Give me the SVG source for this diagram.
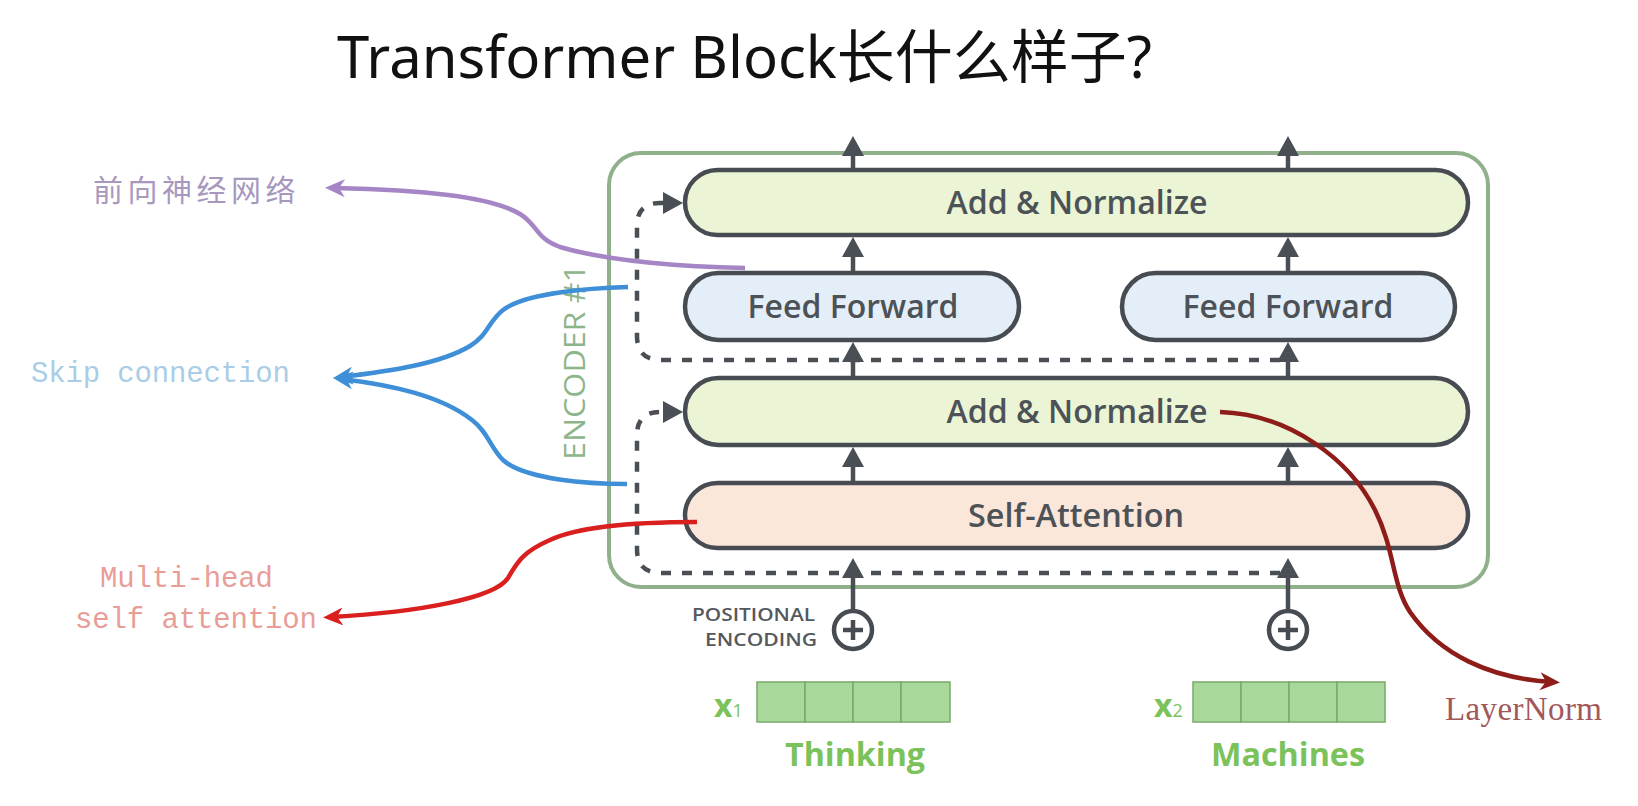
<svg xmlns="http://www.w3.org/2000/svg" width="1638" height="806" viewBox="0 0 1638 806">
<style>
.node{stroke:#474c52;stroke-width:4.5}
.an{fill:#ebf5d5}
.ff{fill:#e4eef9}
.sa{fill:#fbe6da}
.lbl{font-family:"Open Sans","Liberation Sans",sans-serif;font-weight:600;font-size:33px;fill:#4d5257;text-anchor:middle}
.flow{stroke:#4a4f56;stroke-width:4.5;fill:none}
.dash{stroke:#4a4f56;stroke-width:4.5;fill:none;stroke-dasharray:10 11}
.vec{fill:#a9d99a;stroke:#7aa86c;stroke-width:1.5}
.grn{font-family:"Open Sans","Liberation Sans",sans-serif;font-weight:700;fill:#7cc25a}
.mono{font-family:"Liberation Mono","DejaVu Sans Mono",monospace;font-size:29px}
.curve{fill:none;stroke-width:4.5}
</style>
<defs>
<marker id="ah" viewBox="0 0 20 22" refX="10" refY="11" markerWidth="20" markerHeight="22" markerUnits="userSpaceOnUse" orient="auto"><path d="M0,0 L20,11 L0,22 z" fill="#4a4f56"/></marker>
<marker id="ap" viewBox="0 0 20 18" refX="11" refY="9" markerWidth="20" markerHeight="18" markerUnits="userSpaceOnUse" orient="auto"><path d="M0,0 L20,9 L0,18 L6,9 z" fill="#a585c5"/></marker>
<marker id="ab" viewBox="0 0 20 18" refX="11" refY="9" markerWidth="20" markerHeight="18" markerUnits="userSpaceOnUse" orient="auto"><path d="M0,0 L20,9 L0,18 L6,9 z" fill="#3f8fd8"/></marker>
<marker id="ar" viewBox="0 0 20 18" refX="11" refY="9" markerWidth="20" markerHeight="18" markerUnits="userSpaceOnUse" orient="auto"><path d="M0,0 L20,9 L0,18 L6,9 z" fill="#d9201f"/></marker>
<marker id="ad" viewBox="0 0 20 18" refX="11" refY="9" markerWidth="20" markerHeight="18" markerUnits="userSpaceOnUse" orient="auto"><path d="M0,0 L20,9 L0,18 L6,9 z" fill="#8e1d1a"/></marker>
</defs>
<rect width="1638" height="806" fill="#ffffff"/>

<text id="title" x="337" y="78" font-family="'Noto Sans','Noto Sans CJK SC',sans-serif" font-size="58" fill="#111111">Transformer Block长什么样子?</text>

<g id="encoder">
<rect x="609" y="153" width="879" height="434" rx="32" fill="none" stroke="#8fb08b" stroke-width="4"/>
<text transform="translate(585,362) rotate(-90)" font-family="'Open Sans','Liberation Sans',sans-serif" font-size="30" fill="#8db58a" text-anchor="middle" textLength="196" lengthAdjust="spacingAndGlyphs">ENCODER #1</text>
</g>

<g id="connectors">
<path class="dash" d="M1280,360 H661 Q637,360 637,336 V226 Q637,203 660,203 H673" marker-end="url(#ah)"/>
<path class="dash" d="M1280,573 H661 Q637,573 637,549 V435 Q637,412 660,412 H673" marker-end="url(#ah)"/>
<line class="flow" x1="853" y1="170" x2="853" y2="146" marker-end="url(#ah)"/>
<line class="flow" x1="1288" y1="170" x2="1288" y2="146" marker-end="url(#ah)"/>
<line class="flow" x1="853" y1="273" x2="853" y2="247" marker-end="url(#ah)"/>
<line class="flow" x1="1288" y1="273" x2="1288" y2="247" marker-end="url(#ah)"/>
<line class="flow" x1="853" y1="378" x2="853" y2="352" marker-end="url(#ah)"/>
<line class="flow" x1="1288" y1="378" x2="1288" y2="352" marker-end="url(#ah)"/>
<line class="flow" x1="853" y1="483" x2="853" y2="457" marker-end="url(#ah)"/>
<line class="flow" x1="1288" y1="483" x2="1288" y2="457" marker-end="url(#ah)"/>
<line class="flow" x1="853" y1="610" x2="853" y2="568" marker-end="url(#ah)"/>
<line class="flow" x1="1288" y1="610" x2="1288" y2="568" marker-end="url(#ah)"/>
</g>

<g id="add-normalize-2">
<rect class="node an" x="685" y="170" width="783" height="65" rx="32.5"/>
<text class="lbl" x="1077" y="214" textLength="261" lengthAdjust="spacingAndGlyphs">Add &amp; Normalize</text>
</g>
<g id="feed-forward-1">
<rect class="node ff" x="685" y="273" width="334" height="67" rx="33.5"/>
<text class="lbl" x="853" y="318" textLength="211" lengthAdjust="spacingAndGlyphs">Feed Forward</text>
</g>
<g id="feed-forward-2">
<rect class="node ff" x="1122" y="273" width="333" height="67" rx="33.5"/>
<text class="lbl" x="1288" y="318" textLength="211" lengthAdjust="spacingAndGlyphs">Feed Forward</text>
</g>
<g id="add-normalize-1">
<rect class="node an" x="685" y="378" width="783" height="67" rx="33.5"/>
<text class="lbl" x="1077" y="423" textLength="261" lengthAdjust="spacingAndGlyphs">Add &amp; Normalize</text>
</g>
<g id="self-attention">
<rect class="node sa" x="685" y="483" width="783" height="65" rx="32.5"/>
<text class="lbl" x="1076" y="527" textLength="216" lengthAdjust="spacingAndGlyphs">Self-Attention</text>
</g>

<g id="pos-enc-1">
<circle cx="853" cy="630" r="19" fill="#ffffff" stroke="#474c52" stroke-width="4.5"/>
<path d="M843,630 H863 M853,620 V640" stroke="#474c52" stroke-width="4.5"/>
</g>
<g id="pos-enc-2">
<circle cx="1288" cy="630" r="19" fill="#ffffff" stroke="#474c52" stroke-width="4.5"/>
<path d="M1278,630 H1298 M1288,620 V640" stroke="#474c52" stroke-width="4.5"/>
</g>
<g id="pos-label" font-family="'Open Sans','Liberation Sans',sans-serif" font-weight="600" font-size="18" fill="#55595e" text-anchor="end">
<text x="815" y="621" textLength="123" lengthAdjust="spacingAndGlyphs">POSITIONAL</text>
<text x="817" y="646" textLength="112" lengthAdjust="spacingAndGlyphs">ENCODING</text>
</g>

<g id="x1">
<rect class="vec" x="757" y="682" width="48" height="40"/>
<rect class="vec" x="805" y="682" width="48" height="40"/>
<rect class="vec" x="853" y="682" width="48" height="40"/>
<rect class="vec" x="901" y="682" width="49" height="40"/>
<text class="grn" x="714" y="717" font-size="32">x<tspan font-size="18" font-weight="400">1</tspan></text>
<text class="grn" x="855" y="766" font-size="32" text-anchor="middle" textLength="140" lengthAdjust="spacingAndGlyphs">Thinking</text>
</g>
<g id="x2">
<rect class="vec" x="1193" y="682" width="48" height="40"/>
<rect class="vec" x="1241" y="682" width="48" height="40"/>
<rect class="vec" x="1289" y="682" width="48" height="40"/>
<rect class="vec" x="1337" y="682" width="48" height="40"/>
<text class="grn" x="1154" y="717" font-size="32">x<tspan font-size="18" font-weight="400">2</tspan></text>
<text class="grn" x="1288" y="766" font-size="32" text-anchor="middle" textLength="154" lengthAdjust="spacingAndGlyphs">Machines</text>
</g>

<g id="annotations">
<path class="curve" stroke="#a585c5" d="M745,268 C690,267 610,262 560,247 C535,238 538,225 520,214 C490,196 420,190 334,188" marker-end="url(#ap)"/>
<path class="curve" stroke="#3f8fd8" d="M628,287 C590,288 525,293 503,310 C488,322 488,335 470,346 C440,364 390,371 342,377" marker-end="url(#ab)"/>
<path class="curve" stroke="#3f8fd8" d="M627,484 C590,484 525,480 503,460 C490,447 488,432 472,420 C440,395 390,385 342,379" marker-end="url(#ab)"/>
<path class="curve" stroke="#d9201f" d="M697,522 C640,522 580,526 550,540 C520,553 516,565 508,578 C495,598 420,612 332,617" marker-end="url(#ar)"/>
<path class="curve" stroke="#8e1d1a" d="M1220,412 C1290,414 1350,460 1375,510 C1395,550 1392,585 1410,612 C1440,655 1490,678 1551,682" marker-end="url(#ad)"/>
</g>

<g id="label-ffn">
<text x="93" y="201" font-family="'Noto Sans CJK SC',sans-serif" font-size="30" letter-spacing="4.5" fill="#a898be">前向神经网络</text>
</g>
<g id="label-skip">
<text class="mono" x="31" y="382" fill="#a9cde6" textLength="259">Skip connection</text>
</g>
<g id="label-mhsa">
<text class="mono" x="100" y="587" fill="#e99d97" textLength="173">Multi-head</text>
<text class="mono" x="75" y="628" fill="#e99d97" textLength="242">self attention</text>
</g>
<g id="label-layernorm">
<text x="1445" y="720" font-family="'Liberation Serif',serif" font-size="33" fill="#a2585a" textLength="157">LayerNorm</text>
</g>
</svg>
